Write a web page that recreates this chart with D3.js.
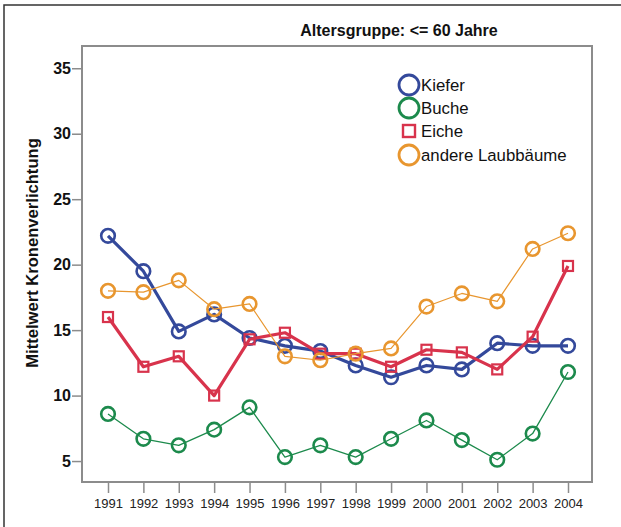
<!DOCTYPE html>
<html>
<head>
<meta charset="utf-8">
<script src="https://cdn.jsdelivr.net/npm/d3@7"></script>
<style>
  body { margin: 0; background: #fff; }
  svg { display: block; font-family: "Liberation Sans", Arial, sans-serif; }
</style>
</head>
<body>
<svg id="chart" width="621" height="527"></svg>
<script>
// data
var years = [1991, 1992, 1993, 1994, 1995, 1996, 1997, 1998, 1999, 2000, 2001, 2002, 2003, 2004];
var kiefer = [22.2, 19.5, 14.9, 16.2, 14.4, 13.8, 13.4, 12.3, 11.4, 12.3, 12.0, 14.0, 13.8, 13.8];
var buche = [8.6, 6.7, 6.2, 7.4, 9.1, 5.3, 6.2, 5.3, 6.7, 8.1, 6.6, 5.1, 7.1, 11.8];
var eiche = [16.0, 12.2, 13.0, 10.0, 14.3, 14.8, 13.2, 13.2, 12.2, 13.5, 13.3, 12.0, 14.5, 19.9];
var andere = [18.0, 17.9, 18.8, 16.6, 17.0, 13.0, 12.7, 13.2, 13.6, 16.8, 17.8, 17.2, 21.2, 22.4];
var yTicks = [5, 10, 15, 20, 25, 30, 35];

var series = [
  { name: "Kiefer", values: kiefer, color: "#34499b", width: 3.2, shape: "circle" },
  { name: "Buche", values: buche, color: "#1c8a4c", width: 1.3, shape: "circle" },
  { name: "Eiche", values: eiche, color: "#d8334c", width: 3.2, shape: "square" },
  { name: "andere Laubbäume", values: andere, color: "#e8962f", width: 1.2, shape: "circle" }
];

var svg = d3.select("#chart");

// outer frame
svg.append("rect")
  .attr("x", 4).attr("y", 5)
  .attr("width", 640).attr("height", 540)
  .attr("fill", "none")
  .attr("stroke", "#333")
  .attr("stroke-width", 1.5);

var plotLeft = 82, plotRight = 592, plotTop = 46, plotBottom = 482;

var x = d3.scaleLinear().domain([1991, 2004]).range([108, 568]);
var y = d3.scaleLinear().domain([3.4, 36.7]).range([plotBottom, plotTop]);

// plot box
svg.append("rect")
  .attr("x", plotLeft).attr("y", plotTop)
  .attr("width", plotRight - plotLeft).attr("height", plotBottom - plotTop)
  .attr("fill", "none")
  .attr("stroke", "#8c8c8c")
  .attr("stroke-width", 2);

// y axis
var yAxis = svg.append("g")
  .attr("transform", "translate(" + plotLeft + ",0)")
  .call(d3.axisLeft(y).tickValues(yTicks).tickSize(10).tickPadding(1));
yAxis.select(".domain").remove();
yAxis.selectAll(".tick line").attr("stroke", "#8c8c8c").attr("stroke-width", 1.5);
yAxis.selectAll(".tick text")
  .attr("fill", "#111")
  .style("font-size", "16px")
  .style("font-weight", "bold")
  .style("font-family", "'Liberation Sans', Arial, sans-serif");

// x axis
var xAxis = svg.append("g")
  .attr("transform", "translate(0," + plotBottom + ")")
  .call(d3.axisBottom(x).tickValues(years).tickFormat(d3.format("d")).tickSize(11).tickPadding(6));
xAxis.select(".domain").remove();
xAxis.selectAll(".tick line").attr("stroke", "#8c8c8c").attr("stroke-width", 1.5);
xAxis.selectAll(".tick text")
  .attr("fill", "#222")
  .style("font-size", "13px")
  .style("font-family", "'Liberation Sans', Arial, sans-serif");

// titles
svg.append("text")
  .attr("x", 399).attr("y", 36)
  .attr("text-anchor", "middle")
  .style("font-size", "16px")
  .style("font-weight", "bold")
  .attr("fill", "#111")
  .text("Altersgruppe: <= 60 Jahre");

svg.append("text")
  .attr("transform", "translate(38,253) rotate(-90)")
  .attr("text-anchor", "middle")
  .style("font-size", "16.6px")
  .style("font-weight", "bold")
  .attr("fill", "#111")
  .text("Mittelwert Kronenverlichtung");

// lines + markers
var line = d3.line()
  .x(function (d, i) { return x(years[i]); })
  .y(function (d) { return y(d); });

series.forEach(function (s) {
  var g = svg.append("g");
  g.append("path")
    .datum(s.values)
    .attr("d", line)
    .attr("fill", "none")
    .attr("stroke", s.color)
    .attr("stroke-width", s.width)
    .attr("stroke-linejoin", "round");

  if (s.shape === "circle") {
    g.selectAll("circle").data(s.values).enter().append("circle")
      .attr("cx", function (d, i) { return x(years[i]); })
      .attr("cy", function (d) { return y(d); })
      .attr("r", 6.8)
      .attr("fill", "none")
      .attr("stroke", s.color)
      .attr("stroke-width", 2.6);
  } else {
    g.selectAll("rect").data(s.values).enter().append("rect")
      .attr("x", function (d, i) { return x(years[i]) - 5; })
      .attr("y", function (d) { return y(d) - 5; })
      .attr("width", 10).attr("height", 10)
      .attr("fill", "none")
      .attr("stroke", s.color)
      .attr("stroke-width", 2.2);
  }
});

// legend
var legend = svg.append("g");
series.forEach(function (s, i) {
  var ly = [85, 108, 131, 155][i];
  if (s.shape === "circle") {
    legend.append("circle")
      .attr("cx", 409).attr("cy", ly).attr("r", 10)
      .attr("fill", "none")
      .attr("stroke", s.color)
      .attr("stroke-width", 2.8);
  } else {
    legend.append("rect")
      .attr("x", 403).attr("y", ly - 6)
      .attr("width", 12).attr("height", 12)
      .attr("fill", "none")
      .attr("stroke", s.color)
      .attr("stroke-width", 2.4);
  }
  legend.append("text")
    .attr("x", 421).attr("y", ly + 6)
    .style("font-size", "16.8px")
    .attr("fill", "#111")
    .text(s.name);
});
</script>
</body>
</html>
